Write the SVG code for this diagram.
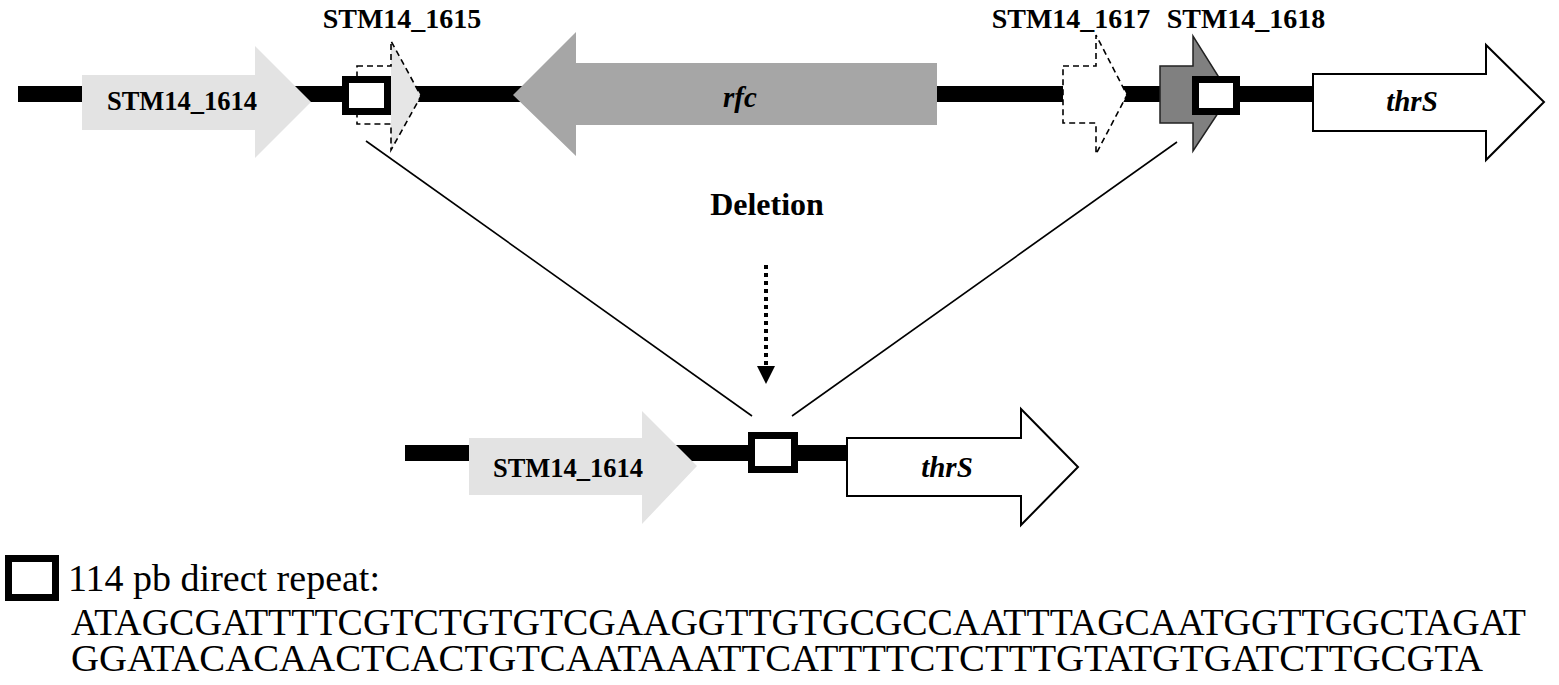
<svg xmlns="http://www.w3.org/2000/svg" width="1559" height="685" viewBox="0 0 1559 685">
<defs>
<style>
.lbl{font-family:"Liberation Serif","Times New Roman",serif;font-weight:bold;fill:#000}
.gl{font-family:"Liberation Serif","Times New Roman",serif;font-weight:bold;font-size:26.5px;fill:#000;text-anchor:middle}
.gi{font-family:"Liberation Serif","Times New Roman",serif;font-weight:bold;font-style:italic;font-size:29px;fill:#000;text-anchor:middle}
.leg{font-family:"Liberation Serif","Times New Roman",serif;font-size:38px;fill:#000}
.bb{fill:#000}
.rep{fill:#fff;stroke:#000;stroke-width:7}
.light{fill:#e3e3e3}
.dash{fill:none;stroke:#000;stroke-width:1.6;stroke-dasharray:6 4}
.white{fill:#fff;stroke:#000;stroke-width:2}
.conn{stroke:#000;stroke-width:1.6;fill:none}
</style>
</defs>
<rect width="1559" height="685" fill="#fff"/>

<g id="backbone-top"><rect class="bb" x="18" y="86" width="1296" height="16"/></g>
<g id="backbone-bottom"><rect class="bb" x="405" y="445" width="443" height="16"/></g>

<g id="STM14_1614-top">
<polygon class="light" points="82,75 255,75 255,46 311,102 255,158 255,130 82,130"/>
<text class="gl" x="182" y="110">STM14_1614</text>
</g>

<g id="STM14_1615">
<polygon fill="#fff" points="357,66 391,66 391,124 357,124"/>
<polygon fill="#e6e6e6" points="391,41 421,96 391,150"/>
<polygon class="dash" points="357,66 391,66 391,41 421,96 391,150 391,124 357,124"/>
<text class="lbl" x="402" y="28" font-size="28" text-anchor="middle">STM14_1615</text>
</g>

<g id="repeat-1"><rect class="rep" x="345.5" y="79.5" width="42" height="32"/></g>

<g id="rfc">
<polygon fill="#a6a6a6" points="937,63 576,63 576,32 513,95 576,156 576,125 937,125"/>
<text class="gi" x="740" y="107">rfc</text>
</g>

<g id="STM14_1617">
<polygon fill="#fff" points="1063,66 1096,66 1096,35 1127,95 1096,154 1096,123 1063,123"/>
<polygon class="dash" points="1063,66 1096,66 1096,35 1127,95 1096,154 1096,123 1063,123"/>
<text class="lbl" x="1071" y="28" font-size="28" text-anchor="middle">STM14_1617</text>
</g>

<g id="STM14_1618">
<polygon fill="#808080" stroke="#222" stroke-width="1.5" points="1160,66 1193,66 1193,36 1230,95 1193,151 1193,123 1160,123"/>
<text class="lbl" x="1246" y="28" font-size="28" text-anchor="middle">STM14_1618</text>
</g>

<g id="repeat-2"><rect class="rep" x="1195.5" y="79.5" width="41" height="32"/></g>

<g id="thrS-top">
<polygon class="white" points="1313,74 1486,74 1486,45 1544,102 1486,160 1486,131 1313,131"/>
<text class="gi" x="1412" y="111">thrS</text>
</g>

<g id="deletion-label">
<text class="lbl" x="767" y="215" font-size="32" text-anchor="middle">Deletion</text>
</g>

<g id="connectors">
<line class="conn" x1="366" y1="141" x2="752" y2="416"/>
<line class="conn" x1="1177" y1="142" x2="792" y2="416"/>
<line x1="766" y1="265" x2="766" y2="366" stroke="#000" stroke-width="4" stroke-dasharray="4 4"/>
<polygon fill="#000" points="757,366 775,366 766,384"/>
</g>

<g id="STM14_1614-bottom">
<polygon class="light" points="469,438 642,438 642,411 697,466 642,524 642,495 469,495"/>
<text class="gl" x="568" y="477">STM14_1614</text>
</g>

<g id="repeat-3"><rect class="rep" x="751.5" y="435.5" width="43" height="34"/></g>

<g id="thrS-bottom">
<polygon class="white" points="847,438 1021,438 1021,409 1078,467 1021,525 1021,496 847,496"/>
<text class="gi" x="947" y="477">thrS</text>
</g>

<g id="legend">
<rect class="rep" x="8.5" y="558.5" width="47" height="39"/>
<text class="leg" x="68" y="591" textLength="312" lengthAdjust="spacingAndGlyphs">114 pb direct repeat:</text>
<text class="leg" x="71" y="635" textLength="1455" lengthAdjust="spacingAndGlyphs">ATAGCGATTTTCGTCTGTGTCGAAGGTTGTGCGCCAATTTAGCAATGGTTGGCTAGAT</text>
<text class="leg" x="71" y="671" textLength="1412" lengthAdjust="spacingAndGlyphs">GGATACACAACTCACTGTCAATAAATTCATTTTCTCTTTGTATGTGATCTTGCGTA</text>
</g>
</svg>
